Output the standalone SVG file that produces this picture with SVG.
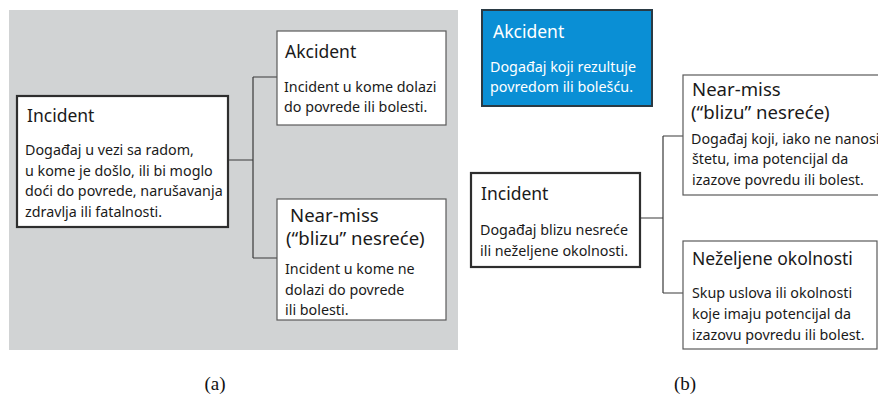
<svg xmlns="http://www.w3.org/2000/svg" width="878" height="396" viewBox="0 0 878 396">
  <style>
    .box { fill: #ffffff; stroke: #5a5a5a; stroke-width: 1.2; }
    .main { fill: #ffffff; stroke: #2e2e2e; stroke-width: 2.2; }
    .blue { fill: #0a8fd5; stroke: #2a3a44; stroke-width: 2; }
    .title { font-family: "Noto Sans", "Open Sans", sans-serif; font-size: 17.5px; fill: #1a1a1a; }
    .big { font-size: 18.6px; }
    .body { font-family: "Noto Sans", "Open Sans", sans-serif; font-size: 14.3px; fill: #1a1a1a; }
    .white { fill: #ffffff; }
    .conn { fill: none; stroke: #3a3a3a; stroke-width: 1.2; }
    .cap { font-family: "Liberation Serif", serif; font-size: 19px; fill: #111; text-anchor: middle; }
  </style>

  <!-- panel (a) backdrop -->
  <rect x="9" y="10" width="449" height="340" fill="#d1d3d4"/>

  <g id="connectors">
    <!-- panel (a) -->
    <path class="conn" d="M228 160 H253 M253 77 V258 M253 77 H277 M253 258 H277"/>
    <!-- panel (b) -->
    <path class="conn" d="M640 218 H663 M663 136 V293 M663 136 H683 M663 293 H683"/>
  </g>

  <!-- panel (a) nodes -->
  <g id="a-incident">
    <rect class="main" x="17" y="96" width="211" height="131"/>
    <text class="title" x="27" y="122">Incident</text>
    <text class="body" x="25" y="155">Događaj u vezi sa radom,</text>
    <text class="body" x="25" y="175.5">u kome je došlo, ili bi moglo</text>
    <text class="body" x="25" y="196">doći do povrede, narušavanja</text>
    <text class="body" x="25" y="216.5">zdravlja ili fatalnosti.</text>
  </g>

  <g id="a-akcident">
    <rect class="box" x="277" y="31" width="169" height="94"/>
    <text class="title" x="285" y="58" font-size="18">Akcident</text>
    <text class="body" x="284" y="92">Incident u kome dolazi</text>
    <text class="body" x="284" y="112">do povrede ili bolesti.</text>
  </g>

  <g id="a-nearmiss">
    <rect class="box" x="277" y="199" width="169" height="121"/>
    <text class="title big" x="290" y="222">Near-miss</text>
    <text class="title big" x="286" y="245">(“blizu” nesreće)</text>
    <text class="body" x="285" y="274">Incident u kome ne</text>
    <text class="body" x="285" y="295">dolazi do povrede</text>
    <text class="body" x="285" y="315">ili bolesti.</text>
  </g>

  <!-- panel (b) nodes -->
  <g id="b-akcident">
    <rect class="blue" x="482" y="10" width="170" height="96"/>
    <text class="title white" x="493" y="38">Akcident</text>
    <text class="body white" x="490" y="72">Događaj koji rezultuje</text>
    <text class="body white" x="490" y="92">povredom ili bolešću.</text>
  </g>

  <g id="b-incident">
    <rect class="main" x="471" y="173" width="169" height="94"/>
    <text class="title" x="481" y="200">Incident</text>
    <text class="body" x="480" y="235">Događaj blizu nesreće</text>
    <text class="body" x="480" y="256">ili neželjene okolnosti.</text>
  </g>

  <g id="b-nearmiss">
    <rect class="box" x="683" y="75" width="200" height="120"/>
    <text class="title big" x="692" y="96">Near-miss</text>
    <text class="title big" x="691" y="119">(“blizu” nesreće)</text>
    <text class="body" x="691" y="144" font-size="13.3">Događaj koji, iako ne nanosi</text>
    <text class="body" x="692" y="164">štetu, ima potencijal da</text>
    <text class="body" x="692" y="185">izazove povredu ili bolest.</text>
  </g>

  <g id="b-nezeljene">
    <rect class="box" x="683" y="241" width="194" height="108"/>
    <text class="title" x="692" y="265">Neželjene okolnosti</text>
    <text class="body" x="692" y="298">Skup uslova ili okolnosti</text>
    <text class="body" x="692" y="319">koje imaju potencijal da</text>
    <text class="body" x="692" y="340">izazovu povredu ili bolest.</text>
  </g>

  <!-- panel captions -->
  <text class="cap" x="215" y="390">(a)</text>
  <text class="cap" x="685" y="390">(b)</text>
</svg>
